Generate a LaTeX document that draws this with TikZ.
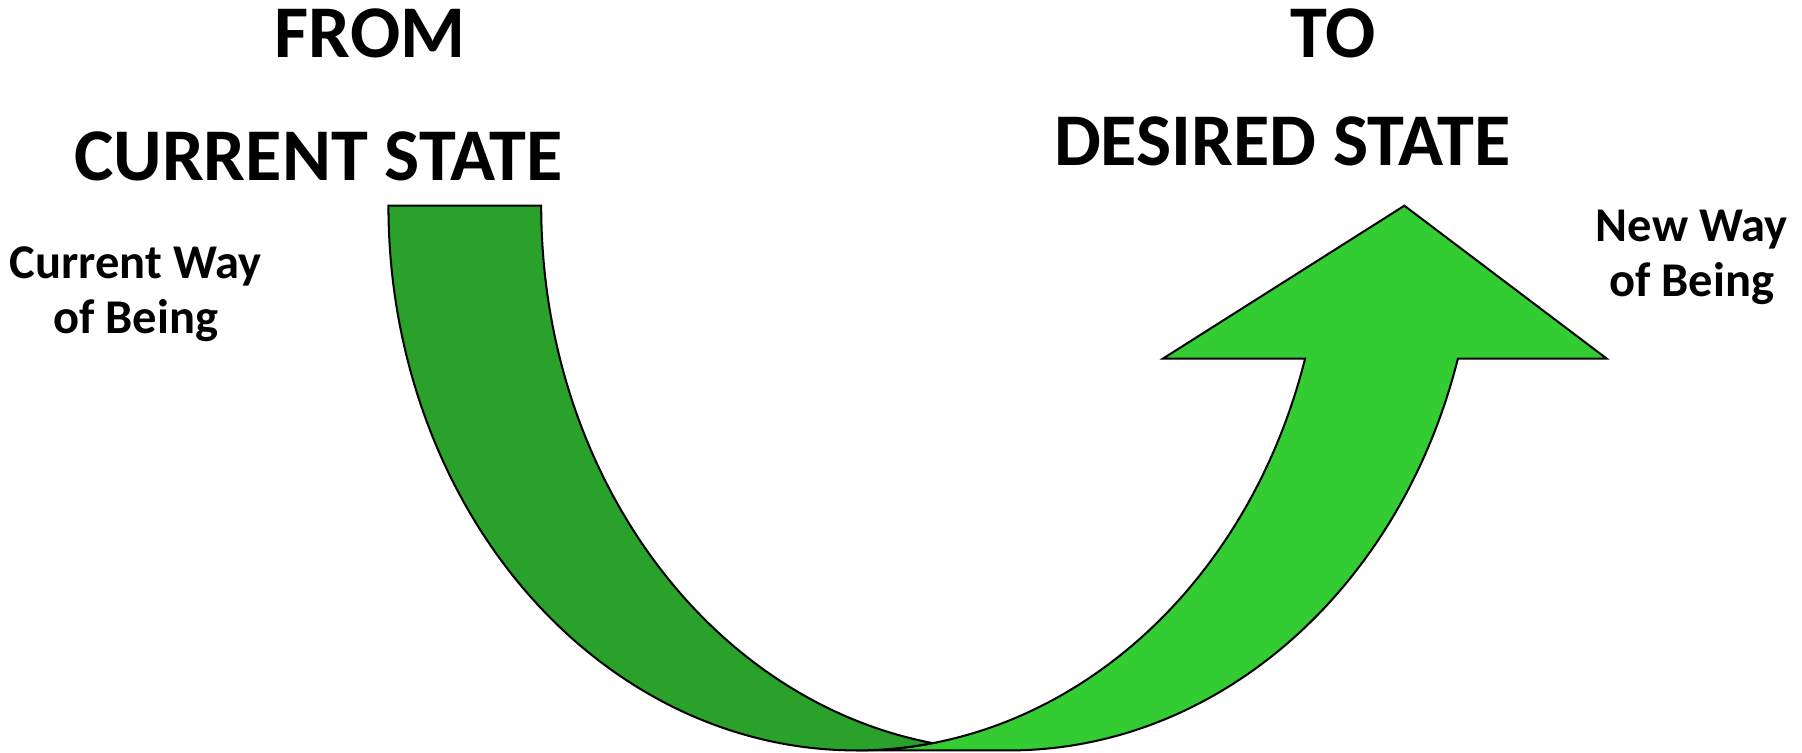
\documentclass[tikz,border=0pt]{standalone}
\usepackage{fontspec}
\setmainfont{Carlito}
\definecolor{darkband}{RGB}{42,161,42}
\definecolor{lightband}{RGB}{51,204,51}
\begin{document}
\begin{tikzpicture}[x=0.01cm,y=0.01cm,
  title/.style={font=\bfseries\fontsize{18.4}{22}\selectfont, anchor=base},
  note/.style={font=\bfseries\fontsize{12}{13.6}\selectfont, anchor=base, align=center},
  band/.style={draw=black, line width=0.5pt, line join=miter}]
\useasboundingbox (0,0) rectangle (1568,-655);

% Draw the front of the turn, ending in the arrow head
\fill[lightband, band] (745,-653)
  arc[start angle=270, end angle=343.7, x radius=407, y radius=474]
  -- (1012,-312) -- (1222,-179) -- (1398,-312) -- (1268.6,-312)
  arc[start angle=343.7, end angle=270, x radius=407, y radius=474]
  -- cycle;

% Draw the back of the turn
\fill[darkband, band] (338,-179)
  arc[start angle=180, end angle=279.4, x radius=407, y radius=474]
  arc[start angle=260.6, end angle=180, x radius=407, y radius=474]
  -- cycle;

% Headings
\node[title] (from) at (322,-50) {FROM};
\node[title] (current) at (277,-157) {CURRENT STATE};
\node[title] (to) at (1160,-50) {TO};
\node[title] (desired) at (1116,-144) {DESIRED STATE};

% Side labels (base is the last line)
\node[note] (curway) at (118,-290) {Current Way\\of Being};
\node[note] (newway) at (1472,-258) {New Way\\of Being};
\end{tikzpicture}
\end{document}
